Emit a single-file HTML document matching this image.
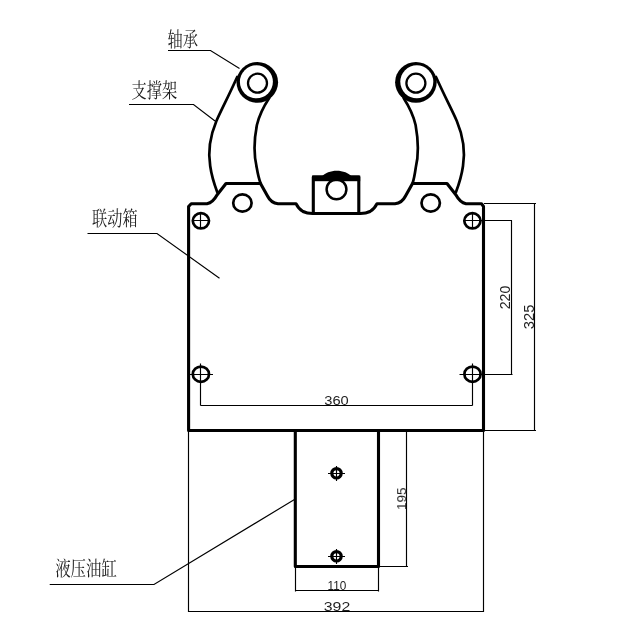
<!DOCTYPE html>
<html><head><meta charset="utf-8">
<style>
html,body{margin:0;padding:0;background:#fff;}
body{width:632px;height:632px;overflow:hidden;}
svg{display:block;}
.k{fill:none;stroke:#000;stroke-width:3.1;stroke-linejoin:round;stroke-linecap:round;}
.a{fill:none;stroke:#000;stroke-width:2.7;stroke-linejoin:round;stroke-linecap:round;}
.t{fill:none;stroke:#000;stroke-width:1.15;}
.d{font-family:"Liberation Sans",sans-serif;font-size:13px;fill:#222;}
.c{font-family:"Liberation Serif","Noto Serif CJK SC",serif;font-size:19px;fill:#1a1a1a;}
</style></head>
<body>
<svg width="632" height="632" viewBox="0 0 632 632">
<rect width="632" height="632" fill="#fff"/>

<!-- main box outline -->
<path class="k" d="M188.6,430.5 L188.6,206.5 L191.2,203.7 L207,203.7 Q213,202.5 217,195 L226,183.5 L260.5,183.5 L267.5,196 Q271,203 278,203.7 L296,203.7 Q298.5,209 303,211.5 Q307,213.5 312.5,213.5 L360.5,213.5 Q366,213.5 370,211.5 Q374.500,209 377,203.7 L395,203.700 Q402,203 405.500,196 L412.500,183.500 L447,183.500 L456,195 Q460,202.500 466,203.700 L481.500,203.700 L483.500,206.500 L483.500,430.500 Z"/>

<!-- arms -->
<path class="a" d="M237.200,77 C227.200,99 221.200,110 216.400,121 C209.700,137 207.900,152 210.200,166 C211.600,176 214.200,184 217.200,192"/>
<path class="a" d="M269.200,98 Q260,112 256.900,125 Q252.200,149 256.800,168 Q258.500,178 260.700,183.500"/>
<path class="a" d="M436,77 C446,99 452,110 456.800,121 C463.500,137 465.300,152 463,166 C461.600,176 459,184 456,192"/>
<path class="a" d="M403.600,98 Q412.600,112 415.600,125 Q420.100,150 415.700,168 Q414.300,178 412.500,183.500"/>

<!-- bearings -->
<ellipse cx="257.300" cy="82.300" rx="20.800" ry="20.400" fill="#000"/>
<circle cx="256.400" cy="81.800" r="16.500" fill="#fff"/>
<circle cx="257.500" cy="83.200" r="9.500" fill="none" stroke="#000" stroke-width="2.300"/>
<ellipse cx="415.900" cy="82.300" rx="20.800" ry="20.400" fill="#000"/>
<circle cx="416.800" cy="81.800" r="16.500" fill="#fff"/>
<circle cx="415.900" cy="83.200" r="9.500" fill="none" stroke="#000" stroke-width="2.300"/>

<!-- holes on bumps -->
<ellipse class="a" cx="242.400" cy="203" rx="9.200" ry="8.650"/>
<ellipse class="a" cx="430.700" cy="203" rx="9.200" ry="8.650"/>

<!-- center block -->
<rect x="313.300" y="177" width="45.500" height="36.500" class="k" fill="#fff"/>
<rect x="312" y="175.500" width="48.200" height="5.700" fill="#000"/>
<path d="M321.500,177 C328,168.700 345.500,168.700 352,177 Z" fill="#000"/>
<circle cx="336.500" cy="189.300" r="9.900" fill="none" stroke="#000" stroke-width="2.500"/>

<!-- bolt holes -->
<g class="a">
<ellipse cx="200.900" cy="220.800" rx="8.100" ry="7.600"/>
<ellipse cx="472.400" cy="220.800" rx="8.100" ry="7.600"/>
<ellipse cx="200.900" cy="374.200" rx="8.100" ry="7.600"/>
<ellipse cx="472.500" cy="374.200" rx="8.100" ry="7.600"/>
</g>
<g class="t">
<path d="M193,220.500H209M200.500,213V229"/>
<path d="M464,220.500H512M472.500,213V229"/>
<path d="M189.500,374.500H213M200.500,363.500V405.500"/>
<path d="M459.500,374.500H512.500M472.500,363.500V405.500"/>
</g>

<!-- cylinder -->
<rect x="295.300" y="430.500" width="83.200" height="136" class="k"/>
<circle cx="336.500" cy="473.300" r="4.700" fill="none" stroke="#000" stroke-width="3.200"/>
<circle cx="336.500" cy="556.300" r="4.700" fill="none" stroke="#000" stroke-width="3.200"/>
<g class="t">
<path d="M328,473.500H345M336.500,466V481"/>
<path d="M328,556.500H345M336.500,549V564"/>
</g>

<!-- dimension lines -->
<g class="t">
<path d="M200.500,405.500H472.500"/>
<path d="M511.500,220.500V374.500"/>
<path d="M484,203.500H536M534.500,203.500V430.500M484,430.500H536"/>
<path d="M379,566.500H408M406.500,430.500V566.500"/>
<path d="M295.500,567V591.500M378.500,567V591.500M295.500,590.500H378.500"/>
<path d="M188.500,431V612M483.500,431V612M188.500,611.500H483.500"/>
<!-- leaders -->
<path d="M168,50.500H210.500L239.500,68.600"/>
<path d="M129,104.500H193.500L215,121"/>
<path d="M87.500,233.500H157L219.500,278.300"/>
<path d="M49.700,584.500H154L295.300,499"/>
</g>

<!-- dimension text -->
<g opacity="0.999">
<text class="d" x="324.300" y="405" textLength="24.500" lengthAdjust="spacingAndGlyphs">360</text>
<text class="d" x="327.500" y="590.400" textLength="18.800" lengthAdjust="spacingAndGlyphs">110</text>
<text class="d" x="323.800" y="611" textLength="26.500" lengthAdjust="spacingAndGlyphs">392</text>
<text class="d" style="font-size:14.5px" transform="translate(510.300,309.300) rotate(-90)" textLength="23.700" lengthAdjust="spacingAndGlyphs">220</text>
<text class="d" style="font-size:14.3px" transform="translate(533.800,329.200) rotate(-90)" textLength="24.500" lengthAdjust="spacingAndGlyphs">325</text>
<text class="d" style="font-size:13.5px" transform="translate(406.200,510) rotate(-90)" textLength="22.500" lengthAdjust="spacingAndGlyphs">195</text>

<!-- labels -->
<text class="c" transform="translate(167.500,47.300) scale(0.8,1.06)">轴承</text>
<text class="c" transform="translate(131.500,98.200) scale(0.8,1.06)">支撑架</text>
<text class="c" transform="translate(92,226) scale(0.8,1.06)">联动箱</text>
<text class="c" transform="translate(55.200,576.500) scale(0.812,1.06)">液压油缸</text>
</g>
</svg>
</body></html>
